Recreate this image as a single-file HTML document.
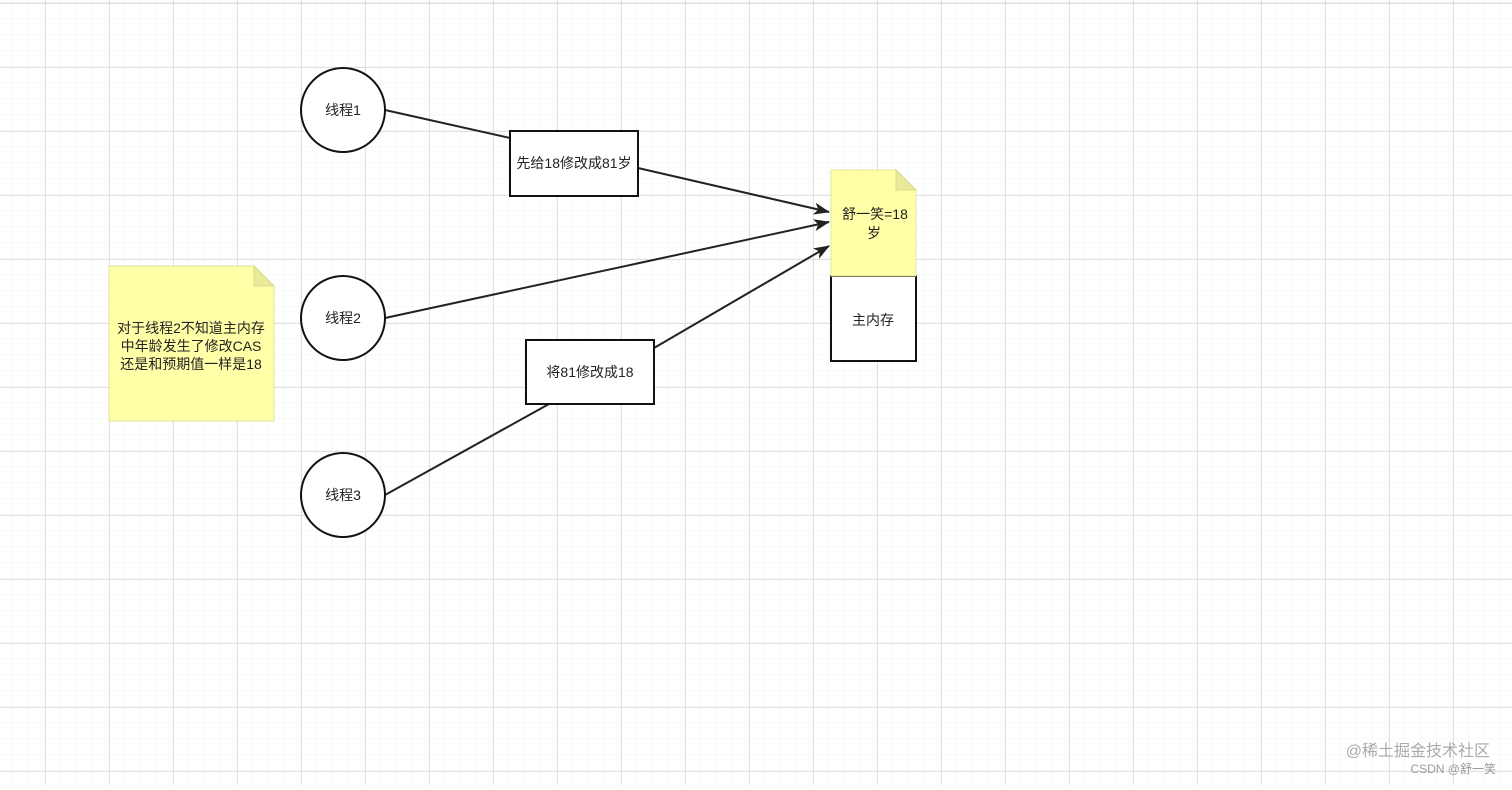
<!DOCTYPE html><html><head><meta charset="utf-8"><style>
body{margin:0;width:1512px;height:785px;overflow:hidden;background:#fff;font-family:"Liberation Sans","Noto Sans CJK SC",sans-serif;}
</style></head><body>
<svg width="1512" height="785" xmlns="http://www.w3.org/2000/svg" font-family="Liberation Sans, Noto Sans CJK SC, sans-serif">
<defs>
<pattern id="mi" x="45" y="3" width="16" height="16" patternUnits="userSpaceOnUse"><path d="M16 0V16M0 16H16" stroke="#f3f3f3" stroke-width="1" fill="none"/></pattern>
<pattern id="ma" x="45" y="3" width="64" height="64" patternUnits="userSpaceOnUse"><path d="M0.5 0V64M0 0.5H64" stroke="#e0e0e0" stroke-width="1" fill="none"/></pattern>
<marker id="ar" markerWidth="16" markerHeight="12" refX="15" refY="6" orient="auto" markerUnits="userSpaceOnUse"><path d="M0 0L16 6L0 12L4 6Z" fill="#222"/></marker>
</defs>
<rect width="1512" height="785" fill="url(#mi)"/>
<rect width="1512" height="785" fill="url(#ma)"/>
<line x1="0" y1="3" x2="1512" y2="3" stroke="#ddd"/>
<g stroke="#222" stroke-width="2" fill="none">
<line x1="385" y1="110" x2="510" y2="138"/>
<line x1="638" y1="168" x2="829" y2="212" marker-end="url(#ar)"/>
<line x1="385" y1="318" x2="829" y2="222" marker-end="url(#ar)"/>
<line x1="385" y1="495" x2="549" y2="404"/>
<line x1="654" y1="348" x2="829" y2="246" marker-end="url(#ar)"/>
</g>
<g stroke="#111" stroke-width="2" fill="#fff">
<circle cx="343" cy="110" r="42"/><circle cx="343" cy="318" r="42"/><circle cx="343" cy="495" r="42"/>
<rect x="510" y="131" width="128" height="65"/>
<rect x="526" y="340" width="128" height="64"/>
<rect x="831" y="276" width="85" height="85"/>
</g>
<path d="M831 170H896L916 190V276H831Z" fill="#ffffa8" stroke="#e6e69a"/>
<path d="M896 170V190H916Z" fill="#e9e99a" stroke="#d9d98a"/>
<path d="M109 266H254L274 286V421H109Z" fill="#ffffa8" stroke="#e0e09a"/>
<path d="M254 266V286H274Z" fill="#e9e99a" stroke="#d9d98a"/>
<g font-size="14" fill="#222" text-anchor="middle">
<text x="343" y="115">线程1</text><text x="343" y="323">线程2</text><text x="343" y="500">线程3</text>
<text x="574" y="168">先给18修改成81岁</text>
<text x="590" y="377">将81修改成18</text>
<text x="875" y="219">舒一笑=18</text><text x="874" y="238">岁</text>
<text x="873" y="325">主内存</text>
<text x="191" y="333">对于线程2不知道主内存</text>
<text x="191" y="351">中年龄发生了修改CAS</text>
<text x="191" y="369">还是和预期值一样是18</text>
</g>
<text x="1490" y="756" font-size="16" fill="#aaa" text-anchor="end">@稀土掘金技术社区</text>
<text x="1496" y="773" font-size="12" fill="#999" text-anchor="end">CSDN @舒一笑</text>
</svg>
</body></html>
